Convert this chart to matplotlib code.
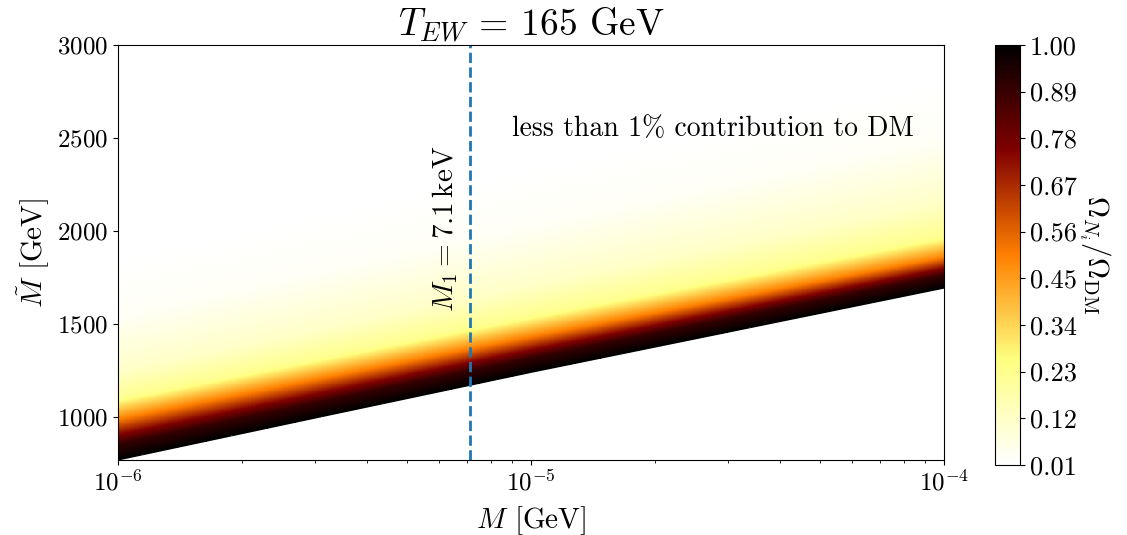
import numpy as np
import matplotlib
matplotlib.use("Agg")
import matplotlib.pyplot as plt

plt.rcParams["font.family"] = "cmr10"
plt.rcParams["mathtext.fontset"] = "cm"
plt.rcParams["axes.formatter.use_mathtext"] = True
plt.rcParams["font.size"] = 16

# ── values ────────────────────────────────────────────────────────────────────
# lower edge of the coloured band (ratio = 1) along M
edge_M = [1e-6, 3.16e-6, 1e-5, 1e-4]
edge_Mt = [769, 1005, 1240, 1693]

# ratio levels and their height above the edge, at M = 1e-6 and M = 1e-4
ratio_levels = [1.00, 0.90, 0.50, 0.23, 0.12, 0.03, 0.01]
offset_left = [0, 86, 221, 328, 473, 774, 1130]
offset_right = [0, 70, 167, 275, 463, 802, 1150]

M1 = 7.1e-6
cbar_ticks = [0.01, 0.12, 0.23, 0.34, 0.45, 0.56, 0.67, 0.78, 0.89, 1.00]

# ── field ─────────────────────────────────────────────────────────────────────
M = np.logspace(-6, -4, 500)
Mt = np.linspace(760, 3000, 900)
lx = np.log10(M)
edge = np.interp(lx, np.log10(edge_M), edge_Mt)
w = (lx + 6) / 2

Z = np.full((len(Mt), len(M)), np.nan)
for j in range(len(M)):
    off = (1 - w[j]) * np.array(offset_left) + w[j] * np.array(offset_right)
    d = Mt - edge[j]
    col = np.interp(d, off, ratio_levels)
    col[d < 0] = np.nan
    Z[:, j] = col
Z = np.ma.masked_invalid(Z)

# ── plot ──────────────────────────────────────────────────────────────────────
fig = plt.figure(figsize=(11.27, 5.35), dpi=100)
ax = fig.add_axes([0.1047, 0.1402, 0.7329, 0.7757])
cax = fig.add_axes([0.883, 0.131, 0.022, 0.785])

pc = ax.pcolormesh(M, Mt, Z, cmap="afmhot_r", vmin=0.01, vmax=1.0,
                   shading="auto", rasterized=True)
ax.plot(edge_M, edge_Mt, color="black", linewidth=0.8)
ax.axvline(M1, color="#1f77b4", linestyle="--", linewidth=2)

ax.set_xscale("log")
ax.set_xlim(1e-6, 1e-4)
ax.set_ylim(769, 3000)
ax.set_yticks([1000, 1500, 2000, 2500, 3000])
ax.tick_params(labelsize=18)
ax.set_xlabel(r"$M$ [GeV]", fontsize=21, labelpad=6)
ax.set_ylabel(r"$\tilde{M}$ [GeV]", fontsize=21)
ax.set_title(r"$T_{EW}$ = 165 GeV", fontsize=27)

ax.text(6.2e-6, 2011, r"$M_1 = 7.1\,\mathrm{keV}$", rotation=90,
        ha="center", va="center", fontsize=21)
ax.text(9.0e-6, 2548, "less than 1% contribution to DM",
        ha="left", va="center", fontsize=20)

cb = fig.colorbar(pc, cax=cax, ticks=cbar_ticks)
cb.ax.set_yticklabels([f"{t:.2f}" for t in cbar_ticks])
cb.ax.tick_params(labelsize=19)
cb.set_label(r"$\Omega_{N_i}/\Omega_{\rm DM}$", rotation=270, fontsize=21,
             labelpad=26)

fig.savefig("out.png", dpi=100)
